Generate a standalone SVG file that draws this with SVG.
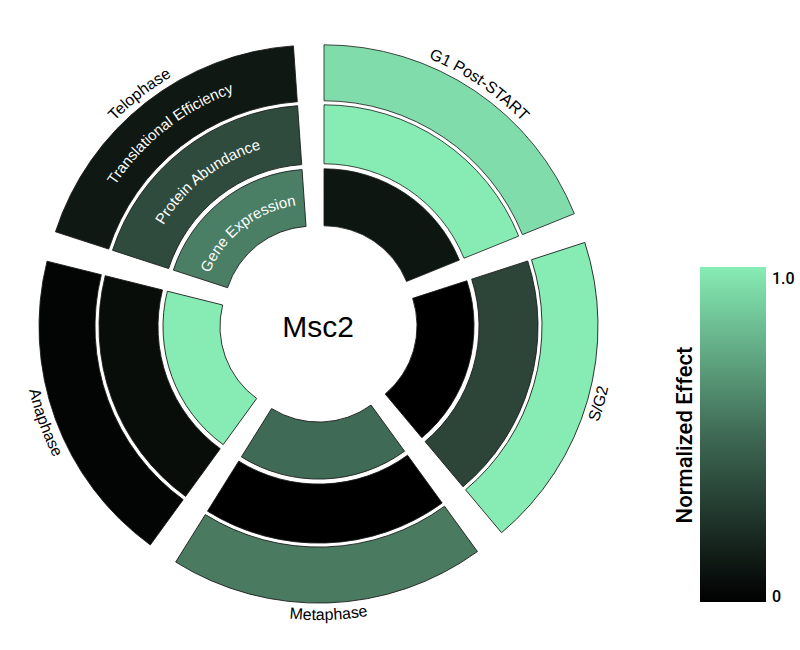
<svg xmlns="http://www.w3.org/2000/svg" width="800" height="650" viewBox="0 0 800 650">
<style>
.w{stroke:#1a1a1a;stroke-width:0.8}
.ph{font-family:"Liberation Sans",Arial,sans-serif;font-size:16px;fill:#000}
.rl{font-family:"Liberation Sans",Arial,sans-serif;font-size:15px;fill:#fff}
</style>
<defs>
<path id="g" d="M0,-146 A146,146 0 0 1 135.37,-54.69 L82.52,-33.34 A89,89 0 0 0 0,-89 Z"/>
<path id="p" d="M0,-210 A210,210 0 0 1 194.71,-78.67 L140.0,-56.56 A151,151 0 0 0 0,-151 Z"/>
<path id="t" d="M0,-270 A270,270 0 0 1 250.34,-101.14 L198.42,-80.16 A214,214 0 0 0 0,-214 Z"/>
<linearGradient id="cb" x1="0" y1="0" x2="0" y2="1">
<stop offset="0" stop-color="#86ecb4"/><stop offset="0.5" stop-color="#3f6a55"/><stop offset="1" stop-color="#000"/>
</linearGradient>
<path id="lg1" d="M323.99,37.81 A277,277 0 0 1 580.82,211.05"/>
<path id="lsg2" d="M512.49,545.7 A287,287 0 0 0 600.98,237.18"/>
<path id="lme" d="M166.67,576.47 A287,287 0 0 0 487.45,565.27"/>
<path id="lan" d="M30.52,257.09 A287,287 0 0 0 140.3,558.7"/>
<path id="lte" d="M48.79,229.63 A277,277 0 0 1 292.91,38.89"/>
<path id="r1" d="M206.67,280.92 A111,111 0 0 1 304.49,204.49"/>
<path id="r2" d="M146.75,261.45 A174,174 0 0 1 300.1,141.64"/>
<path id="r3" d="M87.78,242.3 A236,236 0 0 1 295.77,79.79"/>
</defs>
<g id="g1" transform="translate(323.99,314.81)">
<use href="#g" class="w" fill="#0e1612"/><use href="#p" class="w" fill="#86ecb4"/><use href="#t" class="w" fill="#80dcaa"/>
</g>
<g id="sg2" transform="translate(328.01,325.86) rotate(72)">
<use href="#g" class="w" fill="#000"/><use href="#p" class="w" fill="#2c4538"/><use href="#t" class="w" fill="#86ecb4"/>
</g>
<g id="metaphase" transform="translate(318.75,333.09) rotate(144)">
<use href="#g" class="w" fill="#3f6a55"/><use href="#p" class="w" fill="#000"/><use href="#t" class="w" fill="#4a7a60"/>
</g>
<g id="anaphase" transform="translate(309.0,326.52) rotate(216)">
<use href="#g" class="w" fill="#86ecb4"/><use href="#p" class="w" fill="#080d0a"/><use href="#t" class="w" fill="#030504"/>
</g>
<g id="telophase" transform="translate(312.24,315.22) rotate(288)">
<use href="#g" class="w" fill="#4a7f66"/><use href="#p" class="w" fill="#2f4b3d"/><use href="#t" class="w" fill="#0f1813"/>
</g>
<g id="labels">
<text class="ph"><textPath href="#lg1" startOffset="50%" text-anchor="middle">G1 Post-START</textPath></text>
<text class="ph"><textPath href="#lsg2" startOffset="50%" text-anchor="middle">S/G2</textPath></text>
<text class="ph"><textPath href="#lme" startOffset="50%" text-anchor="middle">Metaphase</textPath></text>
<text class="ph"><textPath href="#lan" startOffset="50%" text-anchor="middle">Anaphase</textPath></text>
<text class="ph"><textPath href="#lte" startOffset="50%" text-anchor="middle">Telophase</textPath></text>
<text class="rl"><textPath href="#r1" startOffset="50%" text-anchor="middle">Gene Expression</textPath></text>
<text class="rl"><textPath href="#r2" startOffset="50%" text-anchor="middle">Protein Abundance</textPath></text>
<text class="rl"><textPath href="#r3" startOffset="50%" text-anchor="middle">Translational Efficiency</textPath></text>
<text x="318" y="337" text-anchor="middle" font-family="Liberation Sans,Arial,sans-serif" font-size="30">Msc2</text>
</g>
<g id="colorbar">
<rect x="700" y="267" width="66" height="335" fill="url(#cb)"/>
<text x="772" y="284" font-family="Roboto,sans-serif" font-size="16" font-weight="500">1.0</text>
<text x="772" y="602" font-family="Roboto,sans-serif" font-size="16" font-weight="500">0</text>
<text transform="translate(692,435) rotate(-90)" text-anchor="middle" font-family="Roboto,sans-serif" font-size="22" font-weight="500">Normalized Effect</text>
</g>
</svg>
